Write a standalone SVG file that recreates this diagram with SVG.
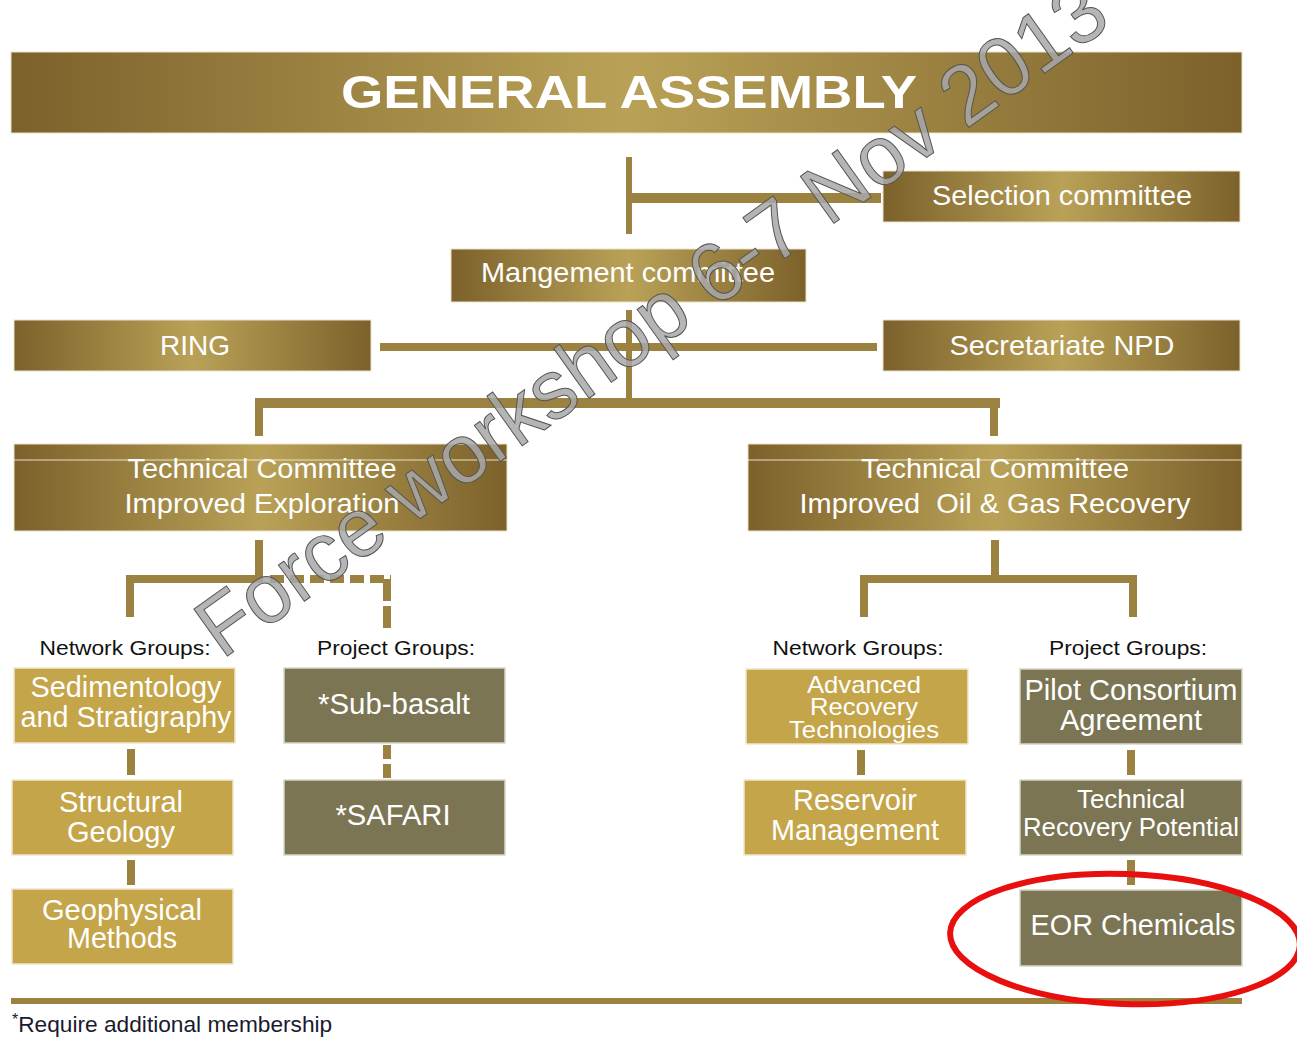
<svg xmlns="http://www.w3.org/2000/svg" width="1297" height="1037" viewBox="0 0 1297 1037">
<defs>
<linearGradient id="gold" x1="0" y1="0" x2="1" y2="0">
<stop offset="0" stop-color="#7c612b"/>
<stop offset="0.5" stop-color="#b9a257"/>
<stop offset="1" stop-color="#7c612b"/>
</linearGradient>
<style>
.g{fill:url(#gold);stroke:#e9e1c8;stroke-width:1}
.m{fill:#c4a54a;stroke:#efe6cc;stroke-width:1.5}
.o{fill:#7b7553;stroke:#d8d6c8;stroke-width:1.5}
.t{font-family:"Liberation Sans",Arial,sans-serif;fill:#fff;text-anchor:middle}
.lab{font-family:"Liberation Sans",Arial,sans-serif;fill:#111;text-anchor:middle;font-size:20px}
.c{fill:#9c8240}
.d{stroke:#9c8240;stroke-width:8;fill:none}
</style>
</defs>
<rect width="1297" height="1037" fill="#fff"/>

<g id="connectors">
<rect class="c" x="626" y="157" width="6" height="77"/>
<rect class="c" x="629" y="193" width="252" height="10"/>
<rect class="c" x="626" y="310" width="6" height="90"/>
<rect class="c" x="380" y="343" width="497" height="8"/>
<rect class="c" x="255" y="398" width="745" height="10"/>
<rect class="c" x="255" y="398" width="8" height="38"/>
<rect class="c" x="990" y="398" width="8" height="38"/>
<rect class="c" x="255" y="540" width="8" height="40"/>
<rect class="c" x="126" y="575" width="137" height="8"/>
<rect class="c" x="126" y="575" width="8" height="42"/>
<path class="d" d="M270 579 H391" stroke-dasharray="14 6"/>
<path class="d" d="M387 579 V628" stroke-dasharray="22 5"/>
<path class="d" d="M387 745 V778" stroke-dasharray="14 5"/>
<rect class="c" x="127" y="749" width="8" height="26"/>
<rect class="c" x="127" y="860" width="8" height="25"/>
<rect class="c" x="991" y="540" width="8" height="40"/>
<rect class="c" x="860" y="575" width="277" height="8"/>
<rect class="c" x="860" y="575" width="8" height="42"/>
<rect class="c" x="1129" y="575" width="8" height="42"/>
<rect class="c" x="857" y="750" width="8" height="25"/>
<rect class="c" x="1127" y="750" width="8" height="25"/>
<rect class="c" x="1127" y="860" width="8" height="25"/>
<rect class="c" x="11" y="998" width="1231" height="6"/>
</g>

<g id="general-assembly">
<rect class="g" x="11" y="52" width="1231" height="81"/>
<text class="t" x="629" y="108" font-size="46" font-weight="bold" textLength="576" lengthAdjust="spacingAndGlyphs">GENERAL ASSEMBLY</text>
</g>

<g id="selection-committee">
<rect class="g" x="883" y="171" width="357" height="51"/>
<text class="t" x="1062" y="205" font-size="28" textLength="260" lengthAdjust="spacingAndGlyphs">Selection committee</text>
</g>

<g id="management-committee">
<rect class="g" x="451" y="249" width="355" height="53"/>
<text class="t" x="628" y="282" font-size="28" textLength="294" lengthAdjust="spacingAndGlyphs">Mangement committee</text>
</g>

<g id="ring">
<rect class="g" x="14" y="320" width="357" height="51"/>
<text class="t" x="195" y="355" font-size="28">RING</text>
</g>

<g id="secretariate-npd">
<rect class="g" x="883" y="320" width="357" height="51"/>
<text class="t" x="1062" y="355" font-size="28" textLength="225" lengthAdjust="spacingAndGlyphs">Secretariate NPD</text>
</g>

<g id="tc-exploration">
<rect class="g" x="14" y="444" width="493" height="87"/>
<line x1="14" y1="460" x2="507" y2="460" stroke="#e9e1c8" stroke-width="1"/>
<text class="t" x="262" y="478" font-size="28" textLength="269" lengthAdjust="spacingAndGlyphs">Technical Committee</text>
<text class="t" x="262" y="513" font-size="28" textLength="275" lengthAdjust="spacingAndGlyphs">Improved Exploration</text>
</g>

<g id="tc-recovery">
<rect class="g" x="748" y="444" width="494" height="87"/>
<line x1="748" y1="460" x2="1242" y2="460" stroke="#e9e1c8" stroke-width="1"/>
<text class="t" x="995" y="478" font-size="28" textLength="268" lengthAdjust="spacingAndGlyphs">Technical Committee</text>
<text class="t" x="995" y="513" font-size="28" textLength="391" lengthAdjust="spacingAndGlyphs" xml:space="preserve">Improved  Oil &amp; Gas Recovery</text>
</g>

<g id="labels">
<text class="lab" x="125" y="655" textLength="171" lengthAdjust="spacingAndGlyphs">Network Groups:</text>
<text class="lab" x="396" y="655" textLength="158" lengthAdjust="spacingAndGlyphs">Project Groups:</text>
<text class="lab" x="858" y="655" textLength="171" lengthAdjust="spacingAndGlyphs">Network Groups:</text>
<text class="lab" x="1128" y="655" textLength="158" lengthAdjust="spacingAndGlyphs">Project Groups:</text>
</g>

<g id="sedimentology">
<rect class="m" x="14" y="668" width="221" height="75"/>
<text class="t" x="126" y="697" font-size="30" textLength="191" lengthAdjust="spacingAndGlyphs">Sedimentology</text>
<text class="t" x="126" y="727" font-size="30" textLength="211" lengthAdjust="spacingAndGlyphs">and Stratigraphy</text>
</g>

<g id="structural-geology">
<rect class="m" x="12" y="780" width="221" height="75"/>
<text class="t" x="121" y="812" font-size="30" textLength="124" lengthAdjust="spacingAndGlyphs">Structural</text>
<text class="t" x="121" y="842" font-size="30" textLength="108" lengthAdjust="spacingAndGlyphs">Geology</text>
</g>

<g id="geophysical-methods">
<rect class="m" x="12" y="889" width="221" height="75"/>
<text class="t" x="122" y="920" font-size="29" textLength="160" lengthAdjust="spacingAndGlyphs">Geophysical</text>
<text class="t" x="122" y="948" font-size="29" textLength="110" lengthAdjust="spacingAndGlyphs">Methods</text>
</g>

<g id="sub-basalt">
<rect class="o" x="284" y="668" width="221" height="75"/>
<text class="t" x="394" y="714" font-size="30" textLength="152" lengthAdjust="spacingAndGlyphs">*Sub-basalt</text>
</g>

<g id="safari">
<rect class="o" x="284" y="780" width="221" height="75"/>
<text class="t" x="393" y="825" font-size="30" textLength="115" lengthAdjust="spacingAndGlyphs">*SAFARI</text>
</g>

<g id="advanced-recovery">
<rect class="m" x="746" y="669" width="222" height="75"/>
<text class="t" x="864" y="693" font-size="24" textLength="114" lengthAdjust="spacingAndGlyphs">Advanced</text>
<text class="t" x="864" y="715" font-size="24" textLength="108" lengthAdjust="spacingAndGlyphs">Recovery</text>
<text class="t" x="864" y="738" font-size="24" textLength="150" lengthAdjust="spacingAndGlyphs">Technologies</text>
</g>

<g id="reservoir-management">
<rect class="m" x="744" y="780" width="222" height="75"/>
<text class="t" x="855" y="810" font-size="30" textLength="124" lengthAdjust="spacingAndGlyphs">Reservoir</text>
<text class="t" x="855" y="840" font-size="30" textLength="168" lengthAdjust="spacingAndGlyphs">Management</text>
</g>

<g id="pilot-consortium">
<rect class="o" x="1020" y="669" width="222" height="75"/>
<text class="t" x="1131" y="700" font-size="30" textLength="213" lengthAdjust="spacingAndGlyphs">Pilot Consortium</text>
<text class="t" x="1131" y="730" font-size="30" textLength="142" lengthAdjust="spacingAndGlyphs">Agreement</text>
</g>

<g id="technical-recovery-potential">
<rect class="o" x="1020" y="780" width="222" height="75"/>
<text class="t" x="1131" y="808" font-size="26" textLength="108" lengthAdjust="spacingAndGlyphs">Technical</text>
<text class="t" x="1131" y="836" font-size="26" textLength="216" lengthAdjust="spacingAndGlyphs">Recovery Potential</text>
</g>

<g id="eor-chemicals">
<rect class="o" x="1020" y="890" width="222" height="76"/>
<text class="t" x="1133" y="935" font-size="30" textLength="205" lengthAdjust="spacingAndGlyphs">EOR Chemicals</text>
</g>

<g id="footnote">
<text x="12" y="1032" font-family="'Liberation Sans',Arial,sans-serif" font-size="22" fill="#1a1a2e"><tspan font-size="16" dy="-7">*</tspan><tspan dy="7" textLength="314" lengthAdjust="spacingAndGlyphs">Require additional membership</tspan></text>
</g>

<g id="highlight">
<ellipse cx="1125" cy="939" rx="175" ry="65" fill="none" stroke="#e8100f" stroke-width="6" transform="rotate(2 1125 939)"/>
</g>

<g id="watermark">
<text x="222" y="660" font-family="'Liberation Sans',Arial,sans-serif" font-size="84" fill="#a8a8a8" fill-opacity="0.85" stroke="#555" stroke-width="1" transform="rotate(-35.5 222 660)" textLength="1095" lengthAdjust="spacingAndGlyphs">Force workshop 6-7 Nov 2013</text>
</g>
</svg>
